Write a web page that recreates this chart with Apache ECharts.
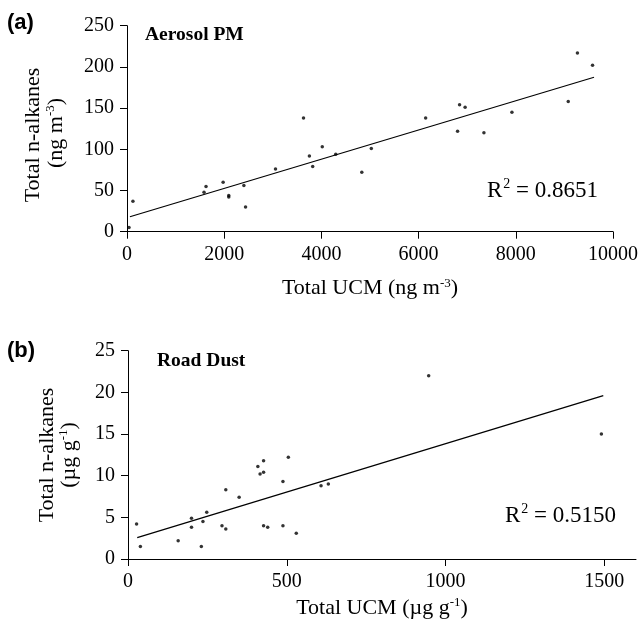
<!DOCTYPE html>
<html>
<head>
<meta charset="utf-8">
<script src="https://cdn.jsdelivr.net/npm/echarts@6/dist/echarts.min.js"></script>
<style>html,body{margin:0;padding:0;background:#fff}#c{width:641px;height:620px}</style>
</head>
<body>
<div id="c"></div>
<script>
// Panel (a): Aerosol PM  [Total UCM (ng m-3), Total n-alkanes (ng m-3)]
const aerosolPoints = [
  [41, 5], [122, 37], [1585, 48], [1626, 55], [1978, 60], [2094, 44], [2094, 42],
  [2405, 56], [2439, 30], [3056, 76], [3632, 138], [3753, 92], [3821, 79],
  [4018, 103], [4295, 94], [4831, 72], [5027, 101], [6145, 138], [6802, 122],
  [6843, 154], [6957, 151], [7344, 120], [7920, 145], [9079, 158], [9268, 217], [9579, 202]
];
const aerosolFit = [[60, 18.2], [9610, 187.5]];
const aerosolR2 = '0.8651';
const aerosolXTicks = [0, 2000, 4000, 6000, 8000, 10000];
const aerosolYTicks = [0, 50, 100, 150, 200, 250];

// Panel (b): Road Dust  [Total UCM (µg g-1), Total n-alkanes (µg g-1)]
const dustPoints = [
  [27, 4.2], [39, 1.5], [158, 2.2], [200, 4.9], [200, 3.8], [231, 1.5], [236, 4.5],
  [248, 5.6], [296, 4.0], [308, 3.6], [308, 8.3], [350, 7.4], [409, 11.1], [416, 10.2],
  [427, 10.4], [427, 11.8], [427, 4.0], [440, 3.8], [488, 9.3], [488, 4.0], [505, 12.2],
  [530, 3.1], [608, 8.8], [631, 9.0], [947, 22.0], [1491, 15.0]
];
const dustFit = [[29, 2.56], [1497, 19.6]];
const dustR2 = '0.5150';
const dustXTicks = [0, 500, 1000, 1500];
const dustYTicks = [0, 5, 10, 15, 20, 25];

const SERIF = '"Liberation Serif", "Times New Roman", serif';
const SANS = '"Liberation Sans", Arial, sans-serif';
const chart = echarts.init(document.getElementById('c'), null, {renderer: 'canvas'});

const plain = v => String(v);
const axisCommon = {
  axisLine: {show: true, lineStyle: {color: '#000', width: 1}},
  axisTick: {show: true, inside: false, length: 7, lineStyle: {color: '#000'}},
  splitLine: {show: false},
  axisLabel: {color: '#000', fontFamily: SERIF, fontSize: 20, formatter: plain},
};
const supRich = {
  n: {fontFamily: SERIF, fontSize: 22, color: '#000', lineHeight: 24},
  s: {fontFamily: SERIF, fontSize: 13, color: '#000', verticalAlign: 'top', lineHeight: 24, padding: [0, 0, 9, 0]}
};
const r2Rich = {
  n: {fontFamily: SERIF, fontSize: 23, color: '#000', lineHeight: 26},
  s: {fontFamily: SERIF, fontSize: 14, color: '#000', verticalAlign: 'top', lineHeight: 26, padding: [0, 0, 14, 1]}
};

function titleText(x, y, rot, richStr) {
  return {type: 'text', x: x, y: y, rotation: rot,
    style: {text: richStr, rich: supRich, align: 'center', verticalAlign: 'middle', fill: '#000'}};
}

chart.setOption({
  animation: false,
  grid: [
    {left: 127, top: 25.7, width: 492, height: 206},
    {left: 128, top: 350.7, width: 508, height: 208.3}
  ],
  xAxis: [
    Object.assign({}, axisCommon, {
      gridIndex: 0, type: 'value', min: 0, max: 10000, interval: 2000,
      axisLabel: Object.assign({}, axisCommon.axisLabel, {margin: 13, customValues: aerosolXTicks}),
      axisTick: Object.assign({}, axisCommon.axisTick, {customValues: aerosolXTicks}),
      name: '{n|Total UCM (ng m}{s|-3}{n|)}', nameLocation: 'middle', nameGap: 45,
      nameTextStyle: {rich: supRich}
    }),
    Object.assign({}, axisCommon, {
      gridIndex: 1, type: 'value', min: 0, max: 1600, interval: 500,
      axisLabel: Object.assign({}, axisCommon.axisLabel, {margin: 13, customValues: dustXTicks}),
      axisTick: Object.assign({}, axisCommon.axisTick, {customValues: dustXTicks}),
      name: '{n|Total UCM (µg g}{s|-1}{n|)}', nameLocation: 'middle', nameGap: 37,
      nameTextStyle: {rich: supRich}
    })
  ],
  yAxis: [
    Object.assign({}, axisCommon, {
      gridIndex: 0, type: 'value', min: 0, max: 250, interval: 50,
      axisLabel: Object.assign({}, axisCommon.axisLabel, {margin: 13, customValues: aerosolYTicks}),
      axisTick: Object.assign({}, axisCommon.axisTick, {customValues: aerosolYTicks})
    }),
    Object.assign({}, axisCommon, {
      gridIndex: 1, type: 'value', min: 0, max: 25, interval: 5,
      axisLabel: Object.assign({}, axisCommon.axisLabel, {margin: 13, customValues: dustYTicks}),
      axisTick: Object.assign({}, axisCommon.axisTick, {customValues: dustYTicks})
    })
  ],
  series: [
    {type: 'scatter', xAxisIndex: 0, yAxisIndex: 0, data: aerosolPoints, symbolSize: 3.5,
     itemStyle: {color: '#000'}, silent: true},
    {type: 'line', xAxisIndex: 0, yAxisIndex: 0, data: aerosolFit, symbol: 'none',
     lineStyle: {color: '#000', width: 1.2}, silent: true},
    {type: 'scatter', xAxisIndex: 1, yAxisIndex: 1, data: dustPoints, symbolSize: 3.5,
     itemStyle: {color: '#000'}, silent: true},
    {type: 'line', xAxisIndex: 1, yAxisIndex: 1, data: dustFit, symbol: 'none',
     lineStyle: {color: '#000', width: 1.2}, silent: true}
  ],
  graphic: [
    {type: 'text', x: 7, y: 23, style: {text: '(a)', font: 'bold 22px ' + SANS, fill: '#000', verticalAlign: 'middle'}},
    {type: 'text', x: 7, y: 351, style: {text: '(b)', font: 'bold 22px ' + SANS, fill: '#000', verticalAlign: 'middle'}},
    {type: 'text', x: 145, y: 35, style: {text: 'Aerosol PM', font: 'bold 19.5px ' + SERIF, fill: '#000', verticalAlign: 'middle'}},
    {type: 'text', x: 157, y: 361, style: {text: 'Road Dust', font: 'bold 19.5px ' + SERIF, fill: '#000', verticalAlign: 'middle'}},
    titleText(33, 135, Math.PI / 2, '{n|Total n-alkanes}'),
    titleText(56, 133, Math.PI / 2, '{n|(ng m}{s|-3}{n|)}'),
    titleText(47, 455, Math.PI / 2, '{n|Total n-alkanes}'),
    titleText(69, 455, Math.PI / 2, '{n|(µg g}{s|-1}{n|)}'),
    {type: 'text', x: 487, y: 190.5,
     style: {text: '{n|R}{s|2}{n| = ' + aerosolR2 + '}', rich: r2Rich, fill: '#000', verticalAlign: 'middle'}},
    {type: 'text', x: 505, y: 515.5,
     style: {text: '{n|R}{s|2}{n| = ' + dustR2 + '}', rich: r2Rich, fill: '#000', verticalAlign: 'middle'}}
  ]
});
</script>
</body>
</html>
